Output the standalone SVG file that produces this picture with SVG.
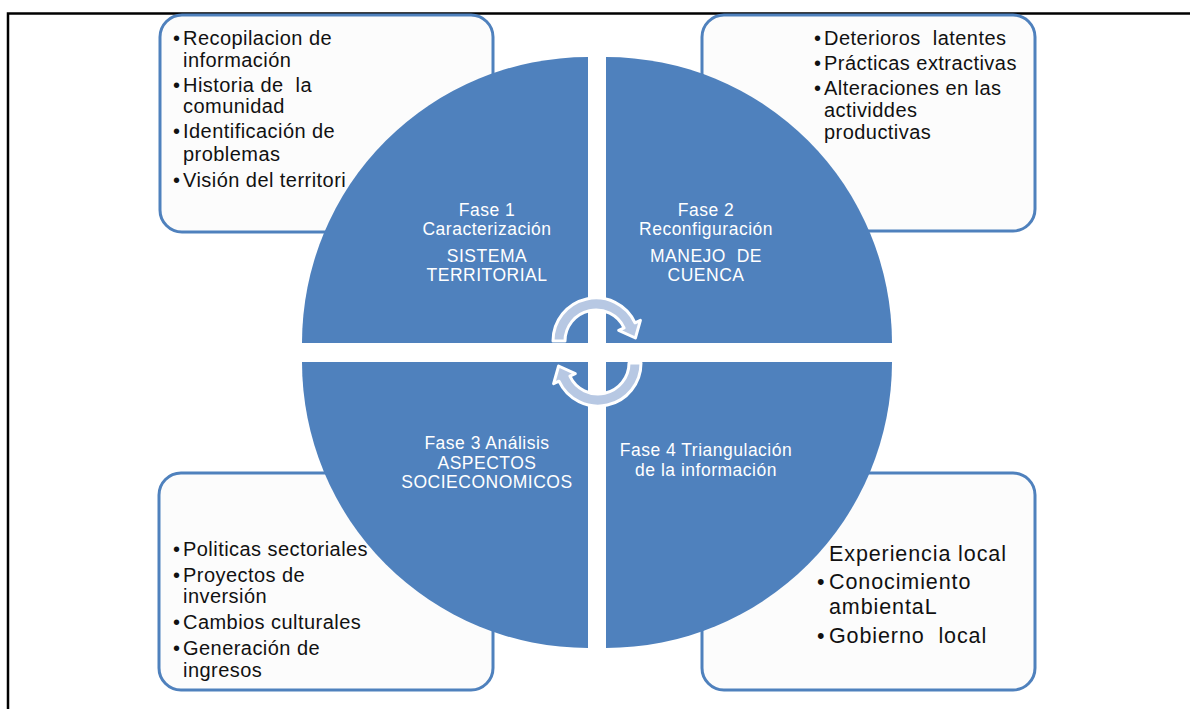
<svg xmlns="http://www.w3.org/2000/svg" width="1190" height="709" viewBox="0 0 1190 709">
<style>
.box{fill:#fcfcfc;stroke:#4f81bd;stroke-width:3}
.pie{fill:#4f81bd}
.bt{font-family:"Liberation Sans",Arial,sans-serif;font-size:20px;letter-spacing:0.45px;fill:#111111;white-space:pre}
.bt2{font-family:"Liberation Sans",Arial,sans-serif;font-size:21.5px;letter-spacing:0.9px;fill:#111111;white-space:pre}
.pt{font-family:"Liberation Sans",Arial,sans-serif;font-size:17.5px;letter-spacing:0.5px;fill:#ffffff;text-anchor:middle;white-space:pre}
.arr{fill:#b7c8e3;stroke:#ffffff;stroke-width:3;stroke-linejoin:round}
.frame{stroke:#000000;stroke-width:2.5;fill:none}
</style>
<rect x="0" y="0" width="1190" height="709" fill="#ffffff"/>
<path class="frame" d="M8,709 L8,13.5 L1190,13.5"/>

<g id="box-tl">
<rect class="box" x="160" y="15" width="333" height="217" rx="22"/>
<text class="bt" x="173" y="45">•</text><text class="bt" x="183" y="45">Recopilacion de</text>
<text class="bt" x="183" y="67">información</text>
<text class="bt" x="173" y="92">•</text><text class="bt" x="183" y="92" xml:space="preserve">Historia de  la</text>
<text class="bt" x="183" y="113">comunidad</text>
<text class="bt" x="173" y="138">•</text><text class="bt" x="183" y="138">Identificación de</text>
<text class="bt" x="183" y="161">problemas</text>
<text class="bt" x="173" y="187">•</text><text class="bt" x="183" y="187">Visión del territori</text>
</g>

<g id="box-tr">
<rect class="box" x="702" y="15" width="333" height="216" rx="22"/>
<text class="bt" x="814" y="45">•</text><text class="bt" x="824" y="45" xml:space="preserve">Deterioros  latentes</text>
<text class="bt" x="814" y="70">•</text><text class="bt" x="824" y="70">Prácticas extractivas</text>
<text class="bt" x="814" y="95">•</text><text class="bt" x="824" y="95">Alteraciones en las</text>
<text class="bt" x="824" y="117">actividdes</text>
<text class="bt" x="824" y="139">productivas</text>
</g>

<g id="box-bl">
<rect class="box" x="159" y="473" width="334" height="217" rx="22"/>
<text class="bt" x="173" y="556">•</text><text class="bt" x="183" y="556">Politicas sectoriales</text>
<text class="bt" x="173" y="582">•</text><text class="bt" x="183" y="582">Proyectos de</text>
<text class="bt" x="183" y="603">inversión</text>
<text class="bt" x="173" y="629">•</text><text class="bt" x="183" y="629">Cambios culturales</text>
<text class="bt" x="173" y="655">•</text><text class="bt" x="183" y="655">Generación de</text>
<text class="bt" x="183" y="677">ingresos</text>
</g>

<g id="box-br">
<rect class="box" x="702" y="473" width="333" height="217" rx="22"/>
<text class="bt2" x="829" y="561">Experiencia local</text>
<text class="bt2" x="817" y="589">•</text><text class="bt2" x="829" y="589">Conocimiento</text>
<text class="bt2" x="829" y="614">ambientaL</text>
<text class="bt2" x="817" y="643">•</text><text class="bt2" x="829" y="643" xml:space="preserve">Gobierno  local</text>
</g>

<g id="fase1">
<path class="pie" d="M588,343 L302,343 A286,286 0 0 1 588,57 Z"/>
<text class="pt" x="487" y="216">Fase 1</text>
<text class="pt" x="487" y="235">Caracterización</text>
<text class="pt" x="487" y="262">SISTEMA</text>
<text class="pt" x="487" y="281">TERRITORIAL</text>
</g>

<g id="fase2">
<path class="pie" d="M606,343 L606,57 A286,286 0 0 1 892,343 Z"/>
<text class="pt" x="706" y="216">Fase 2</text>
<text class="pt" x="706" y="235">Reconfiguración</text>
<text class="pt" x="706" y="262" xml:space="preserve">MANEJO  DE</text>
<text class="pt" x="706" y="281">CUENCA</text>
</g>

<g id="fase3">
<path class="pie" d="M588,362 L588,648 A286,286 0 0 1 302,362 Z"/>
<text class="pt" x="487" y="449">Fase 3 Análisis</text>
<text class="pt" x="487" y="469">ASPECTOS</text>
<text class="pt" x="487" y="488">SOCIECONOMICOS</text>
</g>

<g id="fase4">
<path class="pie" d="M606,362 L892,362 A286,286 0 0 1 606,648 Z"/>
<text class="pt" x="706" y="456">Fase 4 Triangulación</text>
<text class="pt" x="706" y="476">de la información</text>
</g>

<g id="connectors">
<path class="arr" d="M553,341 A43,43 0 0 1 635,322.8 L640.4,320.3 L635.4,338 L618.7,330.4 L624.1,327.9 A31,31 0 0 0 565,341 Z"/>
<path class="arr" transform="rotate(180 597 352)" d="M553,341 A43,43 0 0 1 635,322.8 L640.4,320.3 L635.4,338 L618.7,330.4 L624.1,327.9 A31,31 0 0 0 565,341 Z"/>
</g>
</svg>
